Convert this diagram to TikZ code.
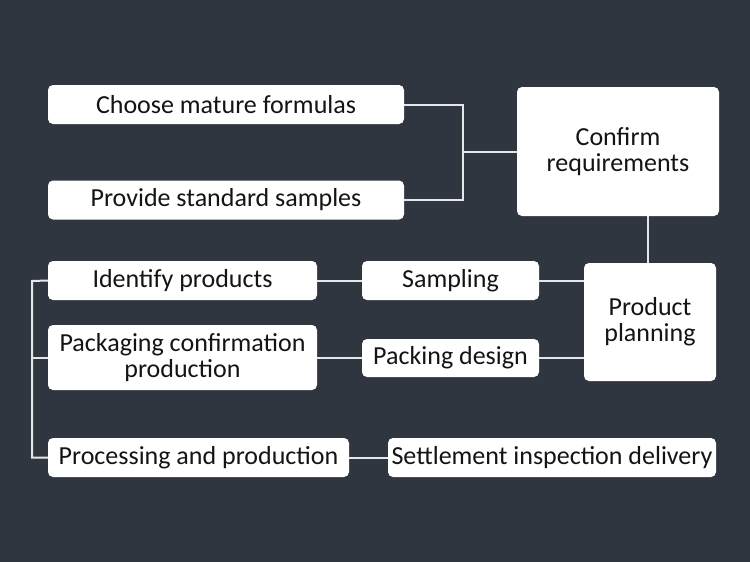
\documentclass[tikz,border=0pt]{standalone}
\usepackage{fontspec}
\setmainfont{Carlito}
\definecolor{bg}{HTML}{30363F}
\definecolor{txt}{HTML}{141414}
\definecolor{ln}{HTML}{E6E6E6}
\begin{document}
\begin{tikzpicture}[x=1pt,y=-1pt,
  box/.style={fill=white, rounded corners=5pt, inner sep=0pt, text=txt,
    font=\fontsize{26}{26}\selectfont, align=center},
  conn/.style={draw=ln, line width=2pt}]
\fill[bg] (0,0) rectangle (750,562);
\useasboundingbox (0,0) rectangle (750,562);
\node[box, minimum width=356pt, minimum height=39pt] (choose) at (226,104.5) {Choose mature formulas};
\node[box, minimum width=356pt, minimum height=39pt] (provide) at (226,200) {Provide standard samples};
\node[box, minimum width=202pt, minimum height=129pt] (confirm) at (618,151.5) {Confirm\\requirements};
\node[box, minimum width=132pt, minimum height=118pt] (plan) at (650,322) {Product\\planning};
\node[box, minimum width=177pt, minimum height=39pt] (sampling) at (450.5,280.5) {Sampling};
\node[box, minimum width=177pt, minimum height=38pt] (packd) at (450.5,358) {Packing design};
\node[box, minimum width=269pt, minimum height=39pt] (ident) at (182.5,280.5) {Identify products};
\node[box, minimum width=269pt, minimum height=65pt] (packc) at (182.5,357.5) {Packaging confirmation\\production};
\node[box, minimum width=301pt, minimum height=39pt] (proc) at (198.5,457.5) {Processing and production};
\node[box, minimum width=328pt, minimum height=39pt] (settle) at (552,457.5) {Settlement inspection delivery};
\coordinate (bj) at (463,152);
\coordinate (lj) at (32,281);
\draw[conn] (choose.east) -| (bj) |- (provide.east);
\draw[conn] (bj) -- (confirm.west |- bj);
\draw[conn] (confirm.south -| 648,0) -- (plan.north -| 648,0);
\draw[conn] (ident.east) -- (sampling.west);
\draw[conn] (sampling.east) -- (plan.west |- sampling.east);
\draw[conn] (packc.east |- packd.west) -- (packd.west);
\draw[conn] (packd.east) -- (plan.west |- packd.east);
\draw[conn] (ident.west) -- (lj) |- (proc.west);
\draw[conn] (lj |- packd.west) -- (packc.west |- packd.west);
\draw[conn] (proc.east) -- (settle.west);
\end{tikzpicture}
\end{document}
